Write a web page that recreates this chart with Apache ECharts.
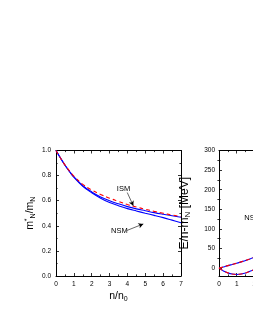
<!DOCTYPE html>
<html>
<head>
<meta charset="utf-8">
<script src="https://cdn.jsdelivr.net/npm/echarts@6/dist/echarts.min.js"></script>
<style>
html,body{margin:0;padding:0;background:#fff;overflow:hidden;}
#c{width:253px;height:327px;}
</style>
</head>
<body>
<div id="c"></div>
<script>
// Left panel: effective mass m*_N/m_N vs n/n0
const nDensity = [0, 0.25, 0.5, 0.75, 1, 1.5, 2, 2.5, 3, 3.5, 4, 4.5, 5, 5.5, 6, 6.5, 7];
const ismDashed = [1, 0.94, 0.885, 0.837, 0.795, 0.73, 0.685, 0.65, 0.62, 0.595, 0.57, 0.55, 0.532, 0.515, 0.5, 0.486, 0.473];
const ismSolid  = [1, 0.94, 0.884, 0.835, 0.79, 0.72, 0.67, 0.63, 0.6, 0.575, 0.553, 0.535, 0.52, 0.505, 0.492, 0.48, 0.468];
const nsmSolid  = [1, 0.94, 0.883, 0.833, 0.787, 0.715, 0.663, 0.62, 0.585, 0.56, 0.537, 0.518, 0.5, 0.483, 0.465, 0.445, 0.425];

// Right panel: E/n - m_N [MeV] vs n/n0
const nDensity2 = [0, 0.25, 0.5, 0.75, 1, 1.25, 1.5, 1.75, 2, 2.5, 3, 4, 5, 6, 7];
const nsmEnergy = [0, 3, 6.5, 9.5, 12.5, 16, 19.5, 23.5, 28, 38, 50, 80, 115, 155, 200];
const snmEnergy = [0, -7, -12, -15, -16, -15, -12.5, -8, -3, 10, 28, 72, 128, 195, 270];

const xTicks = [0, 1, 2, 3, 4, 5, 6, 7];
const leftYTicks = [0, 0.2, 0.4, 0.6, 0.8, 1.0];
const rightYTicks = [0, 50, 100, 150, 200, 250, 300];
const rightYMinor = [25, 75, 125, 175, 225, 275];

const pairs = (xs, ys) => xs.map((x, i) => [x, ys[i]]);
const FONT = 'Liberation Sans, Arial, sans-serif';
const lineBlack = {show: true, onZero: false, lineStyle: {color: '#000', width: 1}};
const tickIn = {show: true, inside: true, length: 3, lineStyle: {color: '#000', width: 0.8}};
const minorIn = {show: true, inside: true, length: 1.6, splitNumber: 2, lineStyle: {color: '#000', width: 0.8}};
const lbl = {color: '#000', fontSize: 6.5, fontFamily: FONT};

function xAx(grid, pos, withLabels, name) {
  const a = {
    type: 'value', gridIndex: grid, position: pos, min: 0, max: 7, interval: 1,
    axisLine: lineBlack, axisTick: tickIn, minorTick: minorIn,
    splitLine: {show: false}, minorSplitLine: {show: false},
    axisLabel: withLabels ? Object.assign({margin: 5}, lbl) : {show: false}
  };
  if (name) {
    a.name = name; a.nameLocation = 'middle'; a.nameGap = 14;
    a.nameTextStyle = {color: '#000', fontSize: 10.5, fontFamily: FONT,
      rich: {sub: {fontSize: 7, verticalAlign: 'bottom', padding: [6, 0, 0, 0], fontFamily: FONT}}};
  }
  return a;
}

const option = {
  backgroundColor: '#fff',
  animation: false,
  grid: [
    {left: 56, top: 150.5, width: 125, height: 125.5, outerBoundsMode: 'none', containLabel: false},
    {left: 219, top: 150.5, width: 124, height: 125.5, outerBoundsMode: 'none', containLabel: false}
  ],
  xAxis: [
    xAx(0, 'bottom', true, 'n/n{sub|0}'),
    xAx(0, 'top', false),
    xAx(1, 'bottom', true),
    xAx(1, 'top', false)
  ],
  yAxis: [
    {type: 'value', gridIndex: 0, position: 'left', min: 0, max: 1, interval: 0.2,
     axisLine: lineBlack, axisTick: tickIn, minorTick: minorIn,
     splitLine: {show: false}, minorSplitLine: {show: false},
     axisLabel: Object.assign({margin: 5, formatter: v => v.toFixed(1)}, lbl),
     name: 'm{sup|*}{sub|N}/m{sub|N}', nameLocation: 'middle', nameGap: 19, nameRotate: 90,
     nameTextStyle: {color: '#000', fontSize: 10.5, fontFamily: FONT,
       rich: {sub: {fontSize: 7, verticalAlign: 'bottom', padding: [6, 0, 0, 0], fontFamily: FONT},
              sup: {fontSize: 7, verticalAlign: 'top', padding: [0, 0, 6, 0], fontFamily: FONT}}}},
    {type: 'value', gridIndex: 0, position: 'right', min: 0, max: 1, interval: 0.2,
     axisLine: lineBlack, axisTick: tickIn, minorTick: minorIn,
     splitLine: {show: false}, axisLabel: {show: false}},
    {type: 'value', gridIndex: 1, position: 'left', min: -20, max: 300,
     axisLine: lineBlack,
     axisTick: Object.assign({customValues: rightYTicks}, tickIn),
     splitLine: {show: false},
     axisLabel: Object.assign({margin: 4, customValues: rightYTicks}, lbl),
     name: 'E/n-m{sub|N} [MeV]', nameLocation: 'middle', nameGap: 27, nameRotate: 90,
     nameTextStyle: {color: '#000', fontSize: 12, fontFamily: FONT,
       rich: {sub: {fontSize: 8, verticalAlign: 'bottom', padding: [7, 0, 0, 0], fontFamily: FONT}}}},
    {type: 'value', gridIndex: 1, position: 'right', min: -20, max: 300,
     axisLine: lineBlack,
     axisTick: Object.assign({customValues: rightYTicks}, tickIn),
     splitLine: {show: false}, axisLabel: {show: false}},
    {type: 'value', gridIndex: 1, position: 'left', min: -20, max: 300,
     axisLine: {show: false},
     axisTick: {show: true, inside: true, length: 1.6, customValues: rightYMinor, lineStyle: {color: '#000', width: 0.8}},
     splitLine: {show: false}, axisLabel: {show: false}},
    {type: 'value', gridIndex: 1, position: 'right', min: -20, max: 300,
     axisLine: {show: false},
     axisTick: {show: true, inside: true, length: 1.6, customValues: rightYMinor, lineStyle: {color: '#000', width: 0.8}},
     splitLine: {show: false}, axisLabel: {show: false}}
  ],
  series: [
    {type: 'line', xAxisIndex: 0, yAxisIndex: 0, data: pairs(nDensity, ismSolid), smooth: 0.4,
     showSymbol: false, lineStyle: {color: '#0000ff', width: 1.1}},
    {type: 'line', xAxisIndex: 0, yAxisIndex: 0, data: pairs(nDensity, nsmSolid), smooth: 0.4,
     showSymbol: false, lineStyle: {color: '#0000ff', width: 1.1}},
    {type: 'line', xAxisIndex: 0, yAxisIndex: 0, data: pairs(nDensity, ismDashed), smooth: 0.4,
     showSymbol: false, lineStyle: {color: '#ff0000', width: 1.1, type: [4, 3]},
     markLine: {silent: true, symbol: ['none', 'arrow'], symbolSize: [4, 5], label: {show: false},
       lineStyle: {color: '#000', width: 0.6, type: 'solid'},
       data: [
         [{coord: [3.99, 0.665]}, {coord: [4.33, 0.559]}],
         [{coord: [3.96, 0.362]}, {coord: [4.89, 0.415]}]
       ]},
     markPoint: {silent: true, symbol: 'rect', symbolSize: 1, itemStyle: {color: 'rgba(0,0,0,0)'},
       label: {show: true, position: 'inside', color: '#000', fontSize: 7.5, fontFamily: FONT},
       data: [
         {coord: [3.78, 0.695], label: {formatter: 'ISM'}},
         {coord: [3.55, 0.36], label: {formatter: 'NSM'}}
       ]}},
    {type: 'line', xAxisIndex: 2, yAxisIndex: 2, data: pairs(nDensity2, snmEnergy), smooth: 0.4,
     showSymbol: false, lineStyle: {color: '#0000ff', width: 1.1}},
    {type: 'line', xAxisIndex: 2, yAxisIndex: 2, data: pairs(nDensity2, nsmEnergy), smooth: 0.4,
     showSymbol: false, lineStyle: {color: '#0000ff', width: 1.1}},
    {type: 'line', xAxisIndex: 2, yAxisIndex: 2, data: pairs(nDensity2, snmEnergy), smooth: 0.4,
     showSymbol: false, lineStyle: {color: '#ff0000', width: 1.1, type: [4, 3]}},
    {type: 'line', xAxisIndex: 2, yAxisIndex: 2, data: pairs(nDensity2, nsmEnergy), smooth: 0.4,
     showSymbol: false, lineStyle: {color: '#ff0000', width: 1.1, type: [4, 3]},
     markPoint: {silent: true, symbol: 'rect', symbolSize: 1, itemStyle: {color: 'rgba(0,0,0,0)'},
       label: {show: true, position: 'right', distance: 0, color: '#000', fontSize: 7.5, fontFamily: FONT},
       data: [{coord: [1.4, 128], label: {formatter: 'NSM'}}]}}
  ]
};
const chart = echarts.init(document.getElementById('c'), null, {renderer: 'canvas'});
chart.setOption(option);
</script>
</body>
</html>
